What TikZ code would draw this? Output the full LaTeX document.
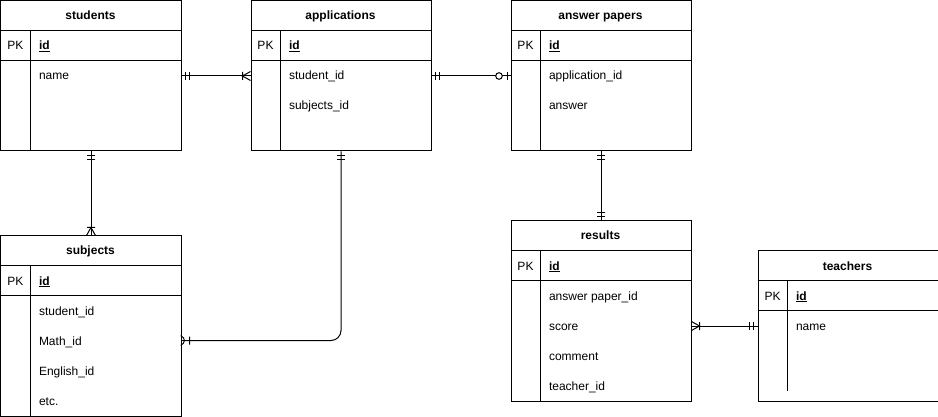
\documentclass[tikz,border=0pt]{standalone}
\usepackage{fontspec}
\setmainfont{Liberation Sans}
\usetikzlibrary{calc, decorations.markings}

\newcommand\erfont{\fontsize{12}{14}\selectfont}
% table: name, x, y, height, title, end of the PK divider
\newcommand\ertable[6]{%
  \node[tbl, minimum height=#4pt] (#1) at (#2,#3) {};
  \node[ttl] (#1-title) at (#2+90,#3+15) {#5};
  \draw (#2,#3+30) -- ++(180,0) (#2,#3+60) -- ++(180,0);
  \draw (#2+30,#3+30) -- (#2+30,#3+#6);
  \node[pk] (#1-pk) at (#2+15,#3+45) {PK};
  \node[fld] (#1-id) at (#2+38,#3+45) {\underline{\textbf{id}}};
}

\tikzset{
  every node/.style={font=\erfont, text height=9pt, text depth=0pt, inner sep=0pt},
  tbl/.style={draw, anchor=north west, minimum width=180pt},
  ttl/.style={font=\erfont\bfseries},
  pk/.style={},
  fld/.style={anchor=west},
  one start/.style={postaction={decorate, decoration={markings,
      mark=at position 0 with {\draw (4,-4) -- (4,4) (8,-4) -- (8,4);}}}},
  one end/.style={postaction={decorate, decoration={markings,
      mark=at position 1 with {\draw (-4,-4) -- (-4,4) (-8,-4) -- (-8,4);}}}},
  many start/.style={postaction={decorate, decoration={markings,
      mark=at position 0 with {\draw (0,-4.5) -- (8,0) -- (0,4.5) (8,-4) -- (8,4);}}}},
  many end/.style={postaction={decorate, decoration={markings,
      mark=at position 1 with {\draw (0,-4.5) -- (-8,0) -- (0,4.5) (-8,-4) -- (-8,4);}}}},
  zero one end/.style={postaction={decorate, decoration={markings,
      mark=at position 1 with {\draw (-3,-4) -- (-3,4); \draw[fill=white] (-11.5,0) circle (3.3);}}}}
}

\begin{document}
\begin{tikzpicture}[x=1pt, y=-1pt, line width=1pt]
\useasboundingbox (-0.5,-0.5) rectangle (937.5,416.5);
% tables
\ertable{students}{0}{0}{150}{students}{150}
\ertable{applications}{250}{0}{150}{applications}{150}
\ertable{papers}{510}{0}{150}{answer papers}{150}
\ertable{subjects}{0}{235}{180}{subjects}{180}
\ertable{results}{510}{220}{180}{results}{180}
\ertable{teachers}{757}{250}{150}{teachers}{140}
% fields
\node[fld] (students-name) at (38,75) {name};
\node[fld] (applications-student) at (288,75) {student\_id};
\node[fld] (applications-subjects) at (288,105) {subjects\_id};
\node[fld] (papers-application) at (548,75) {application\_id};
\node[fld] (papers-answer) at (548,105) {answer};
\node[fld] (subjects-student) at (38,310) {student\_id};
\node[fld] (subjects-math) at (38,340) {Math\_id};
\node[fld] (subjects-english) at (38,370) {English\_id};
\node[fld] (subjects-etc) at (38,400) {etc.};
\node[fld] (results-paper) at (548,295) {answer paper\_id};
\node[fld] (results-score) at (548,325) {score};
\node[fld] (results-comment) at (548,355) {comment};
\node[fld] (results-teacher) at (548,385) {teacher\_id};
\node[fld] (teachers-name) at (795,325) {name};
% relations
\draw[one start, many end] (students.east) -- (applications.west);
\draw[one start, zero one end] (applications.east) -- (papers.west);
\draw[one start, many end] (students.south) -- (subjects.north);
\draw[one start, many end, rounded corners=10pt] (applications.south) |- (subjects.east |- subjects-math);
\draw[one start, one end] (papers.south) -- (results.north);
\draw[many start, one end] (results.east |- teachers.west) -- (teachers.west);
\end{tikzpicture}
\end{document}
